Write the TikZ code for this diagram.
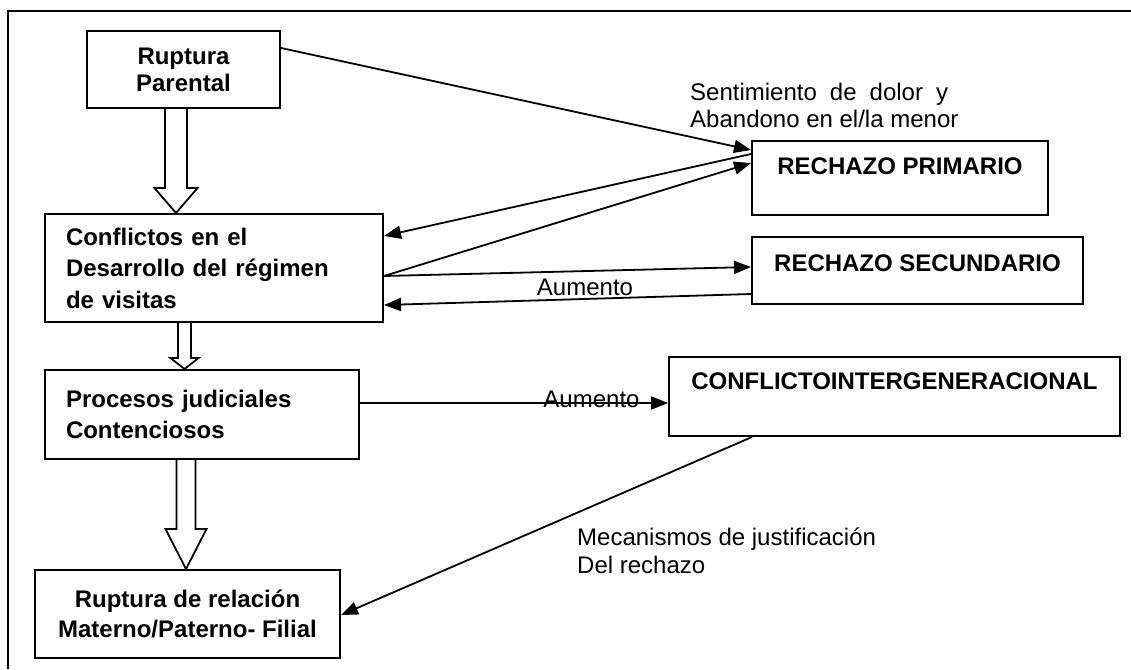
\documentclass[tikz,border=0pt]{standalone}
\usepackage{fontspec}
\setmainfont{Liberation Sans}
\usetikzlibrary{arrows.meta,calc}

% block arrow: source, target, x centre, half shaft, half head, head length
\newcommand{\hollowarrow}[6]{%
  \draw[hollow] let \p1=(#1.south), \p2=(#2.north) in
    (#3pt-#4pt,\y1) -- (#3pt-#4pt,\y2+#6pt) -- (#3pt-#5pt,\y2+#6pt) -- (#3pt,\y2)
    -- (#3pt+#5pt,\y2+#6pt) -- (#3pt+#4pt,\y2+#6pt) -- (#3pt+#4pt,\y1);}

\begin{document}
\begin{tikzpicture}[x=1pt, y=-1pt,
    box/.style={draw, line width=2pt, inner sep=0pt, font=\bfseries\fontsize{24}{27}\selectfont},
    lbl/.style={inner sep=0pt, font=\fontsize{24}{27}\selectfont},
    link/.style={line width=1.8pt, -{Triangle[length=17pt,width=13pt]}},
    hollow/.style={line width=1.8pt, line join=miter}]
    \useasboundingbox (0,0) rectangle (1131,669);
    \draw[line width=1.4pt] (1131,11) -- (8,11) -- (8,669);

    % left column
    \node[box, minimum width=193pt, minimum height=77pt, align=center] (rupt) at (183.5,69.5) {Ruptura\\Parental};
    \node[box, minimum width=338pt, minimum height=108pt, text width=296pt, align=left,
          font=\bfseries\fontsize{24}{31.5}\selectfont] (conf) at (214,268)
          {Conflictos en el\\\makebox[272pt][s]{Desarrollo del régimen}\\de visitas};
    \node[box, minimum width=314pt, minimum height=89pt, text width=272pt, align=left,
          font=\bfseries\fontsize{24}{31}\selectfont] (proc) at (202,414.5) {Procesos judiciales\\Contenciosos};
    \node[box, minimum width=305pt, minimum height=88pt, align=center,
          font=\bfseries\fontsize{24}{30}\selectfont] (rrel) at (187.5,614) {Ruptura de relación\\Materno/Paterno- Filial};

    % right column
    \node[box, minimum width=296pt, minimum height=74pt, text depth=24pt] (prim) at (900,178) {RECHAZO PRIMARIO};
    \node[box, minimum width=331pt, minimum height=67pt, text depth=15pt] (sec) at (917.5,270.5) {RECHAZO SECUNDARIO};
    \node[box, minimum width=451pt, minimum height=79pt, text depth=30pt] (ci) at (894.5,396.5) {CONFLICTOINTERGENERACIONAL};

    % labels
    \node[lbl, anchor=west, align=left] (dolor) at (690,105.5) {\makebox[258pt][s]{Sentimiento de dolor y}\\Abandono en el/la menor};
    \node[lbl] (aum1) at (585,287.5) {Aumento};
    \node[lbl] (aum2) at (591.5,399) {Aumento};
    \node[lbl, anchor=west, align=left, font=\fontsize{24}{28}\selectfont] (mec) at (577,551) {Mecanismos de justificación\\Del rechazo};

    % block arrows
    \hollowarrow{rupt}{conf}{176}{11}{21.5}{25}
    \hollowarrow{conf}{proc}{184.5}{6.5}{14}{11}
    \hollowarrow{proc}{rrel}{186}{9.5}{20.5}{40}

    % connectors
    \draw[link] ([yshift=21.5pt]rupt.east) -- ([yshift=28pt]prim.west);
    \draw[link] ([yshift=24pt]prim.west) -- ([yshift=32pt]conf.east);
    \draw[link] ([yshift=-8pt]conf.east) -- ([yshift=15pt]prim.west);
    \draw[link] ([yshift=-8pt]conf.east) -- ([yshift=3.5pt]sec.west);
    \draw[link] ([yshift=-23.5pt]sec.west) -- ([yshift=-37pt]conf.east);
    \draw[link] ([yshift=11.5pt]proc.east) -- ([yshift=-6.5pt]ci.west);
    \draw[link] ([xshift=-142.5pt]ci.south) -- ([yshift=-1pt]rrel.east);
\end{tikzpicture}
\end{document}
